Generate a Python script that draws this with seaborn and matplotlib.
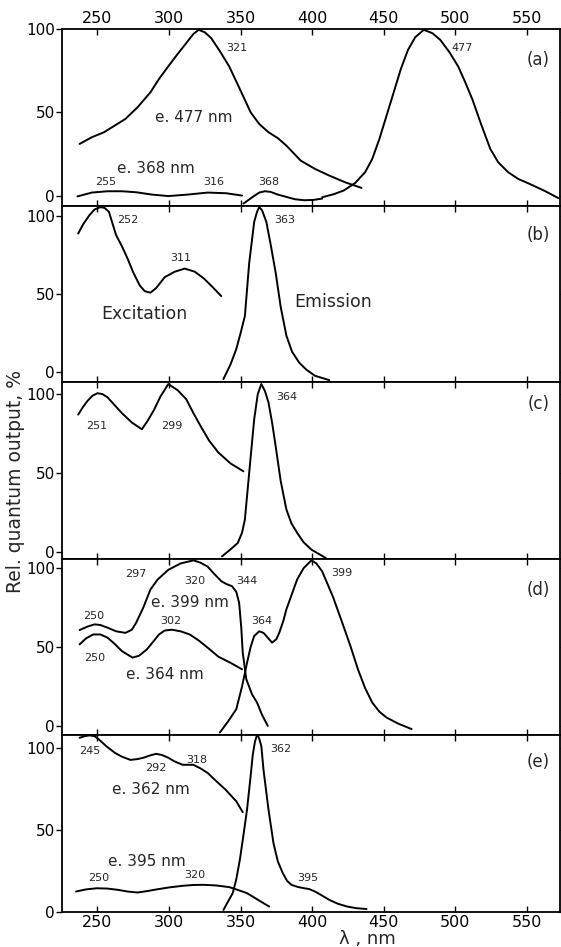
import numpy as np
import pandas as pd
import seaborn as sns
import matplotlib.pyplot as plt

sns.set_theme(style="ticks")
plt.rcParams['font.family'] = ['DejaVu Sans']

# panel (a)
a_ex477_x = [237.5, 246, 254.5, 262, 269.5, 278, 287, 293, 299.5, 306, 312, 317, 320.75, 325, 329.5, 336, 342, 350, 357, 363, 369.5, 376, 382, 392, 402, 412, 423, 434.5]
a_ex477_y = [31, 35, 38, 42, 46, 53, 62, 70, 77.6, 85, 91.5, 97, 99.5, 98, 94.5, 86, 77.6, 63, 50, 43, 38, 34.5, 30, 21, 16, 12, 8, 4.6]
a_em477_x = [407, 415, 422, 430, 437, 442, 447, 452, 457, 462, 467, 472, 478, 484, 489.5, 496, 502, 507, 512, 518, 524.5, 530, 537, 544, 552, 563, 572]
a_em477_y = [-1, 0.8, 3, 7.5, 14, 22, 34, 48, 62, 76, 87.5, 95, 99.5, 97.5, 93.5, 86, 77.6, 68, 57.7, 43, 28, 20, 14, 10, 7, 2.6, -1.5]
a_ex368_x = [236, 246, 257, 267, 277, 288, 299.5, 313, 327, 340, 351]
a_ex368_y = [-0.5, 1.8, 2.6, 2.6, 2.0, 0.6, -0.3, 0.6, 1.8, 1.4, 0.0]
a_em368_x = [352, 359, 363, 367, 371, 376, 382, 388, 394.5, 401, 407]
a_em368_y = [-4.8, -0.5, 1.8, 2.6, 2.2, 0.6, -0.8, -2.2, -2.8, -2.6, -1.8]

# panel (b)
b_ex_x = [236.5, 240, 244.5, 248, 252, 255, 258, 263, 267, 271, 275, 279.5, 283, 287, 291, 297, 304, 311, 318, 324.5, 330, 336.5]
b_ex_y = [89, 95, 101, 104.5, 106, 105.5, 103, 88, 81, 73, 64, 55.7, 52, 51, 54, 61, 64.5, 66.5, 64.5, 60, 55, 48.8]
b_em_x = [338, 343, 347, 350, 353, 356, 359.5, 361.5, 363, 365, 368, 371, 374.5, 378, 382, 386, 391, 396, 402, 412]
b_em_y = [-4.5, 5, 14.8, 25, 36, 70, 96.5, 103, 106, 104, 96.5, 82, 64, 42, 23.4, 13, 6, 1.5, -2.4, -5.2]

# panel (c)
c_ex_x = [236.5, 240, 243, 246.5, 250, 253.5, 257, 262, 267, 274, 281, 285, 289.5, 294, 299.5, 306, 312, 317, 322, 328, 334.5, 343, 352]
c_ex_y = [87, 92, 95.7, 99, 100.6, 100, 98, 93, 88, 82, 77.7, 83, 90, 98.5, 106.4, 102.5, 96.8, 88, 79.8, 70.5, 62.9, 56, 51]
c_em_x = [337, 343, 348, 351, 353, 356, 359.5, 362, 364.5, 367, 369.5, 372, 374.5, 378, 382, 385.5, 389.5, 394, 399.5, 409.5]
c_em_y = [-3, 1.5, 5.5, 12, 20.4, 50, 84, 100, 106.4, 102, 94.7, 82, 67, 45, 26.8, 18, 12, 6, 1.3, -4]

# panel (d)
d_ex399_x = [237.5, 243, 248, 252, 257, 263, 269.5, 274, 277, 282, 287, 292, 299.5, 308, 317, 322, 327, 332, 336.5, 340, 344, 347, 349, 350.5, 351.5, 354, 358, 361.5, 365, 369]
d_ex399_y = [60.8, 63, 64.4, 64, 62.3, 60, 59, 61, 65.4, 75, 86.5, 92.8, 99, 103, 105, 103.5, 101, 96, 91.8, 90, 88.6, 85, 78, 62, 46.5, 29.6, 20, 14.8, 7, 0]
d_ex364_x = [237.5, 242, 247, 252, 257, 262, 267, 274.5, 279, 284.5, 289, 293, 297, 302, 308, 314.5, 321, 327, 334.5, 343, 351]
d_ex364_y = [51.7, 55.5, 58, 58, 56, 52, 47.5, 43.3, 44.5, 48.5, 53.5, 58, 60.5, 61, 60, 58, 54, 49.6, 43.9, 40, 35.9]
d_em_x = [335.5, 341, 347, 351, 354.5, 357, 359.5, 363, 366, 368, 372, 375, 377, 380, 382, 386, 389.5, 394, 399.5, 403, 407, 414.5, 422, 427, 432, 437, 442, 447, 452, 460, 469.5]
d_em_y = [-4.2, 2.5, 10.6, 25, 40, 50, 57, 60, 59, 57, 52.8, 55, 59, 67, 73.9, 84, 92.8, 100, 105, 103, 98, 82, 63, 50, 35.9, 24, 14.8, 9, 5.3, 1.5, -2]

# panel (e)
e_ex362_x = [237.5, 241, 244.5, 248, 251, 256, 262, 267, 273, 278, 282, 287, 291, 295, 299.5, 304, 309.5, 317, 322, 327, 333, 339.5, 344, 347, 351.5]
e_ex362_y = [106.5, 107.5, 108, 107.5, 105.5, 101.5, 97.4, 95, 93, 93.5, 94.3, 95.8, 96.7, 96, 94.3, 92, 90, 90, 87.8, 85, 80, 74.8, 70.5, 67.7, 61]
e_em_x = [338, 341, 344.5, 347, 349.5, 352, 354.5, 357, 358.5, 360, 361, 362, 363, 364.5, 366, 369.5, 373, 376, 379.5, 382.5, 385.5, 390, 394.5, 398, 402, 407, 412, 418, 424.5, 431, 438]
e_em_y = [1.2, 6, 11.5, 20, 32, 47, 62.6, 83, 96, 104, 107, 108, 106, 101.4, 87, 62.6, 42, 31, 23.7, 19, 16.6, 15.3, 14.5, 14, 12.5, 10, 7.4, 5, 3.3, 2.3, 1.8]
e_ex395_x = [235, 242, 249.5, 257, 264.5, 271, 278, 285, 292, 300, 309.5, 317, 324.5, 333, 342, 348, 354.5, 362, 370]
e_ex395_y = [12.5, 13.8, 14.5, 14.3, 13.5, 12.5, 11.9, 12.8, 13.9, 15, 16, 16.5, 16.6, 16.2, 15.2, 13.5, 11.5, 7.5, 3.3]

panel_curves = [
    [(a_ex477_x, a_ex477_y), (a_em477_x, a_em477_y), (a_ex368_x, a_ex368_y), (a_em368_x, a_em368_y)],
    [(b_ex_x, b_ex_y), (b_em_x, b_em_y)],
    [(c_ex_x, c_ex_y), (c_em_x, c_em_y)],
    [(d_ex399_x, d_ex399_y), (d_ex364_x, d_ex364_y), (d_em_x, d_em_y)],
    [(e_ex362_x, e_ex362_y), (e_em_x, e_em_y), (e_ex395_x, e_ex395_y)],
]
panel_ylims = [(-6, 100), (-6.5, 107), (-4.5, 107.6), (-6, 106), (0, 108)]
panel_tags = ['(a)', '(b)', '(c)', '(d)', '(e)']
tag_y = [81.5, 88, 93.6, 86.5, 92]

# small peak labels: (x, y, text)
peak_labels = [
    [(347, 88.5, '321'), (504.5, 88.5, '477'), (256, 8, '255'), (331, 8, '316'), (369.5, 8, '368')],
    [(271, 97.6, '252'), (308, 73, '311'), (380.75, 97.6, '363')],
    [(249.5, 80, '251'), (302, 80, '299'), (382, 98, '364')],
    [(277, 96.6, '297'), (318, 91.8, '320'), (354.5, 91.8, '344'), (420.75, 97, '399'),
     (247, 69.6, '250'), (301, 66.5, '302'), (364.5, 66.5, '364'), (248, 43.3, '250')],
    [(244.5, 98.3, '245'), (291, 88, '292'), (319.5, 93, '318'), (378, 99.4, '362'),
     (250.75, 20.7, '250'), (318, 22.7, '320'), (397, 20.7, '395')],
]
# larger curve names: (x, y, text, size)
curve_labels = [
    [(317, 47, 'e. 477 nm', 11), (291, 16, 'e. 368 nm', 11)],
    [(283, 37.4, 'Excitation', 12.5), (414.5, 45, 'Emission', 12.5)],
    [],
    [(314.5, 78, 'e. 399 nm', 11), (297, 32.7, 'e. 364 nm', 11)],
    [(287, 74.8, 'e. 362 nm', 11), (284.5, 30.9, 'e. 395 nm', 11)],
]

fig, axes = plt.subplots(5, 1, figsize=(5.61, 9.47), dpi=100, sharex=True)
fig.subplots_adjust(left=0.110, right=0.9977, top=0.9694, bottom=0.037, hspace=0)

xticks = [250, 300, 350, 400, 450, 500, 550]
for i, ax in enumerate(axes):
    for cx, cy in panel_curves[i]:
        df = pd.DataFrame({'nm': cx, 'val': cy})
        sns.lineplot(data=df, x='nm', y='val', ax=ax, color='black', lw=1.4, sort=False)
    ax.set_xlim(225, 573)
    ax.set_ylim(*panel_ylims[i])
    ax.set_yticks([0, 50, 100])
    ax.set_xticks(xticks)
    ax.set_xlabel('')
    ax.set_ylabel('')
    for s in ax.spines.values():
        s.set_linewidth(1.3)
        s.set_color('black')
    ax.tick_params(axis='y', direction='out', length=4, width=1, labelsize=11,
                   right=True, pad=1, colors='black')
    ax.tick_params(axis='x', direction='in', length=4, width=1, top=True,
                   bottom=True, labelbottom=(i == 4), labeltop=(i == 0),
                   labelsize=11.5, pad=2, colors='black')
    ax.text(558, tag_y[i], panel_tags[i], ha='center', va='center', fontsize=12)
    for x, y, t in peak_labels[i]:
        ax.text(x, y, t, ha='center', va='center', fontsize=8)
    for x, y, t, fs in curve_labels[i]:
        ax.text(x, y, t, ha='center', va='center', fontsize=fs)

fig.text(0.027, 0.492, 'Rel. quantum output, %', rotation=90, ha='center', va='center', fontsize=13.5)
fig.text(0.655, 0.008, 'λ , nm', ha='center', va='center', fontsize=13)

fig.savefig('out.png', dpi=100)
